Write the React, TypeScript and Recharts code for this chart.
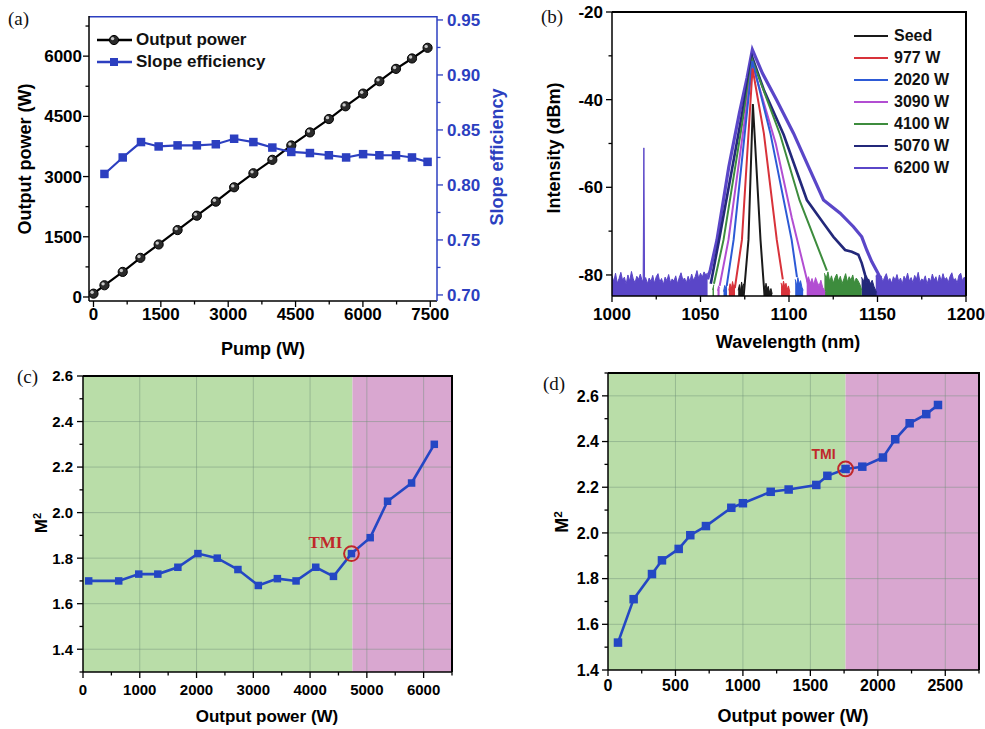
import React from 'react';
import {
  ComposedChart,
  Line,
  Area,
  XAxis,
  YAxis,
  CartesianGrid,
  ReferenceArea,
  ReferenceDot,
  Legend,
} from 'recharts';

const FONT = '"Liberation Sans", Arial, Helvetica, sans-serif';
const SERIF = '"Liberation Serif", "Times New Roman", serif';

// ---------------- Panel (a) data ----------------
const pumpPower = [0, 244, 651, 1044, 1451, 1873, 2302, 2724, 3132, 3561, 3983, 4405, 4820, 5242, 5612, 6004, 6367, 6737, 7093, 7440];
const outputPower = [83, 292, 625, 975, 1308, 1667, 2025, 2375, 2733, 3083, 3417, 3775, 4100, 4433, 4750, 5067, 5375, 5683, 5942, 6208];
const slopePump = [244, 651, 1058, 1451, 1873, 2302, 2724, 3132, 3561, 3983, 4405, 4820, 5242, 5626, 6004, 6367, 6737, 7093, 7440];
const slopeEff = [0.810, 0.825, 0.839, 0.835, 0.836, 0.836, 0.837, 0.842, 0.839, 0.834, 0.830, 0.829, 0.827, 0.825, 0.828, 0.827, 0.827, 0.825, 0.821];
const aXDomain: [number, number] = [-100, 7650];
const aYDomain: [number, number] = [-100, 7000];
const aXTicks = [0, 750, 1500, 2250, 3000, 3750, 4500, 5250, 6000, 6750, 7500];
const aXMajors = [0, 1500, 3000, 4500, 6000, 7500];
const aYTicks = [0, 750, 1500, 2250, 3000, 3750, 4500, 5250, 6000, 6750];
const aYMajors = [0, 1500, 3000, 4500, 6000];
const aY2Ticks = [0.7, 0.725, 0.75, 0.775, 0.8, 0.825, 0.85, 0.875, 0.9, 0.925, 0.95];
const aY2Majors = [0.7, 0.75, 0.8, 0.85, 0.9, 0.95];
const aLegendNames = ['Output power', 'Slope efficiency'];

// ---------------- Panel (b) data ----------------
const specNames = ['Seed', '977 W', '2020 W', '3090 W', '4100 W', '5070 W', '6200 W'];
const specColors = ['#1a1a1a', '#d8323a', '#2d5ad6', '#b24ed2', '#3d8c3d', '#23287a', '#5a46c8'];
const seedLine = [[1074.4, -84.8], [1077.1, -72], [1079.6, -41], [1083.9, -72], [1086.2, -84.8]];
const w977Line = [[1069.4, -83], [1073.4, -72], [1079.4, -32.9], [1085.8, -47.7], [1093.1, -72], [1096.5, -81]];
const w2020Line = [[1064.8, -82.5], [1068.7, -72], [1079.3, -31.2], [1089.5, -47.7], [1101.5, -72], [1104.5, -80.5]];
const w3090Line = [[1060.8, -82.5], [1065.8, -72], [1079.3, -31.8], [1092.5, -50], [1101.6, -67], [1111, -82.5]];
const w4100Line = [[1057.6, -82], [1063, -72], [1079.3, -31], [1095, -48], [1106, -63], [1121.4, -79]];
const w5070Line = [[1055.8, -82], [1060.5, -72], [1079.3, -30.4], [1086, -38], [1097, -48], [1110.1, -62.9], [1119.5, -68.2], [1125.1, -71.3], [1131.7, -74.3], [1135.5, -74.7], [1139.2, -75.4], [1141.1, -77.3], [1143, -80], [1145.8, -82.7], [1147, -84.8]];
const w6200Line = [[1054, -81], [1055.5, -78.9], [1059.3, -72], [1066, -55.3], [1072, -43], [1076.3, -35], [1079.3, -28.6], [1085, -34], [1093, -40.1], [1102.6, -47.7], [1111, -55.3], [1119.5, -62.9], [1128.9, -65.9], [1136.4, -69], [1141.1, -71.3], [1143.9, -74.3], [1146.8, -77], [1149.9, -79.3], [1152, -81]];

const floor6200: (number | null)[][] = [
  [1000, -80.2], [1001, -81.5], [1002, -79.6], [1003, -81.9], [1004, -80.8], [1005, -79.4], [1006, -81.2], [1007, -80.5],
  [1008, -82.1], [1009, -80.0], [1010, -81.4], [1011, -79.2], [1012, -80.9], [1013, -81.8], [1014, -80.3], [1015, -81.0],
  [1016, -79.8], [1017, -81.3], [1017.6, -81.0], [1018, -51], [1018.4, -81.2], [1019, -80.6], [1020, -82.0], [1021, -80.7],
  [1022, -81.5], [1023, -80.1], [1024, -81.9], [1025, -80.4], [1026, -79.7], [1027, -81.6], [1028, -80.8], [1029, -82.2],
  [1030, -80.5], [1031, -81.3], [1032, -79.9], [1033, -81.7], [1034, -80.9], [1035, -81.4], [1036, -80.2], [1037, -82.0],
  [1038, -80.6], [1039, -79.5], [1040, -81.1], [1041, -80.7], [1042, -81.8], [1043, -80.3], [1044, -81.5], [1045, -79.8],
  [1046, -81.2], [1047, -80.4], [1048, -79.0], [1049, -80.8], [1050, -79.6], [1051, -80.5], [1052, -79.3], [1053, -80.0],
  [1054, -79.5], [1055, null],
  [1149, -80.2], [1150, -79.8], [1151, -80.9], [1152, -80.2], [1153, -81.6], [1154, -80.5], [1155, -79.7], [1156, -81.3],
  [1157, -80.8], [1158, -81.9], [1159, -80.4], [1160, -81.2], [1161, -79.9], [1162, -81.5], [1163, -80.7], [1164, -82.0],
  [1165, -80.3], [1166, -81.1], [1167, -79.6], [1168, -81.4], [1169, -80.6], [1170, -81.8], [1171, -80.1], [1172, -81.0],
  [1173, -79.4], [1174, -81.6], [1175, -80.9], [1176, -81.3], [1177, -80.2], [1178, -82.1], [1179, -80.7], [1180, -81.5],
  [1181, -79.8], [1182, -81.2], [1183, -80.4], [1184, -81.9], [1185, -80.0], [1186, -81.4], [1187, -79.7], [1188, -81.1],
  [1189, -80.6], [1190, -81.7], [1191, -80.3], [1192, -79.5], [1193, -81.2], [1194, -80.8], [1195, -81.9], [1196, -80.1],
  [1197, -79.6], [1198, -81.3], [1199, -80.5], [1200, -81.0],
];
const noise5070: (number | null)[][] = [
  [1141, -80.5], [1142, -81.5], [1143, -80.2], [1144, -81.8], [1145, -80.9], [1146, -82.0], [1147, -81.2], [1148, -82.6], [1149.5, -84.0],
];
const noise4100: (number | null)[][] = [
  [1056.8, -83.4], [1057.6, -82.2], [1058.2, null],
  [1120, -79.6], [1121, -80.8], [1122, -79.3], [1123, -81.5], [1124, -80.2], [1125, -81.9], [1126, -80.6], [1127, -79.8],
  [1128, -81.4], [1129, -80.3], [1130, -82.0], [1131, -80.9], [1132, -79.7], [1133, -81.6], [1134, -80.4], [1135, -81.2],
  [1136, -80.0], [1137, -81.8], [1138, -80.7], [1139, -81.3], [1140, -82.1], [1141.1, -83.5],
];
const noise3090: (number | null)[][] = [
  [1059.6, -83.6], [1060.2, -82.5], [1060.8, -83.0], [1061.2, null],
  [1110, -81.5], [1111, -80.4], [1112, -81.9], [1113, -80.8], [1114, -82.2], [1115, -80.6], [1116, -81.7], [1117, -82.5],
  [1118, -81.2], [1119, -82.8], [1120.4, -83.8],
];
const noise2020: (number | null)[][] = [
  [1063, -83.8], [1063.7, -82.4], [1064.4, -83.1], [1065, -82.0], [1065.5, null],
  [1103.5, -81.0], [1104.3, -82.4], [1105, -80.6], [1105.8, -82.1], [1106.5, -81.3], [1107.3, -82.8], [1108, -83.5],
];
const noise977: (number | null)[][] = [
  [1066, -83.5], [1066.7, -82.0], [1067.4, -83.2], [1068.1, -81.5], [1068.8, -82.8], [1069.5, -82.2], [1070, null],
  [1095.5, -81.8], [1096.2, -83.0], [1096.9, -81.4], [1097.6, -82.7], [1098.3, -81.9], [1099, -83.3], [1099.7, -82.5], [1100.5, -84.0],
];
const noiseSeed: (number | null)[][] = [
  [1071.3, -83.5], [1072, -82.2], [1072.6, -83.8], [1073.2, -81.6], [1073.8, -83.0], [1074.4, -82.0], [1075, null],
  [1085.8, -82.4], [1086.4, -83.6], [1087, -81.9], [1087.7, -83.2], [1088.3, -82.6], [1089, -84.0], [1089.8, -83.1], [1090.5, -84.3],
];
const bXDomain: [number, number] = [1000, 1200];
const bYDomain: [number, number] = [-84.8, -20];
const bXTicks = [1000, 1025, 1050, 1075, 1100, 1125, 1150, 1175, 1200];
const bXMajors = [1000, 1050, 1100, 1150, 1200];
const bYTicks = [-80, -70, -60, -50, -40, -30, -20];
const bYMajors = [-80, -60, -40, -20];

// ---------------- Panel (c) data ----------------
const cPower = [100, 629, 982, 1318, 1671, 2024, 2365, 2729, 3088, 3424, 3753, 4100, 4412, 4729, 5059, 5365, 5788, 6188];
const cM2 = [1.70, 1.70, 1.73, 1.73, 1.76, 1.82, 1.80, 1.75, 1.68, 1.71, 1.70, 1.76, 1.72, 1.82, 1.89, 2.05, 2.13, 2.30];
const cTmi = { power: 4729, m2: 1.82, threshold: 4747 };
const cXTicks = [0, 500, 1000, 1500, 2000, 2500, 3000, 3500, 4000, 4500, 5000, 5500, 6000, 6500];
const cXMajors = [0, 1000, 2000, 3000, 4000, 5000, 6000];
const cYTicks = [1.3, 1.4, 1.5, 1.6, 1.7, 1.8, 1.9, 2.0, 2.1, 2.2, 2.3, 2.4, 2.5, 2.6];
const cYMajors = [1.4, 1.6, 1.8, 2.0, 2.2, 2.4, 2.6];

// ---------------- Panel (d) data ----------------
const dPower = [74, 190, 326, 400, 524, 610, 726, 914, 1000, 1206, 1339, 1544, 1626, 1761, 1885, 2038, 2129, 2236, 2359, 2446];
const dM2 = [1.52, 1.71, 1.82, 1.88, 1.93, 1.99, 2.03, 2.11, 2.13, 2.18, 2.19, 2.21, 2.25, 2.28, 2.29, 2.33, 2.41, 2.48, 2.52, 2.56];
const dTmi = { power: 1761, m2: 2.28, threshold: 1761 };
const dXTicks = [0, 250, 500, 750, 1000, 1250, 1500, 1750, 2000, 2250, 2500, 2750];
const dXMajors = [0, 500, 1000, 1500, 2000, 2500];
const dYTicks = [1.4, 1.5, 1.6, 1.7, 1.8, 1.9, 2.0, 2.1, 2.2, 2.3, 2.4, 2.5, 2.6, 2.7];
const dYMajors = [1.4, 1.6, 1.8, 2.0, 2.2, 2.4, 2.6];

// ---------------- helpers ----------------
const toPts = (arr: (number | null)[][]) => arr.map(([w, v]) => ({ w, v }));
const near = (v: number, arr: number[]) => arr.some((m) => Math.abs(m - v) < 1e-7);

type Side = 'left' | 'right' | 'top' | 'bottom';
interface TickCfg { side: Side; majors: number[]; dec?: number; color?: string; fs?: number; dist?: number; out?: boolean; label?: boolean; }
const makeTick = (c: TickCfg) => (props: any) => {
  const { x, y, payload } = props;
  const v = Number(payload.value);
  const major = near(v, c.majors);
  const L = major ? 6 : 3.5;
  const s = c.out ? 1 : -1;
  const col = c.color ?? '#000';
  const fs = c.fs ?? 16;
  const d = c.dist ?? 10;
  const txt = major && c.label !== false ? v.toFixed(c.dec ?? 0) : null;
  const tp = { fill: col, fontFamily: FONT, fontWeight: 700, fontSize: fs } as any;
  if (c.side === 'bottom') {
    return (
      <g>
        <line x1={x} x2={x} y1={y} y2={y + s * L} stroke={col} strokeWidth={1.3} />
        {txt && <text x={x} y={y + d + fs * 0.36} textAnchor="middle" {...tp}>{txt}</text>}
      </g>
    );
  }
  if (c.side === 'left') {
    return (
      <g>
        <line x1={x} x2={x - s * L} y1={y} y2={y} stroke={col} strokeWidth={1.3} />
        {txt && <text x={x - d} y={y + fs * 0.36} textAnchor="end" {...tp}>{txt}</text>}
      </g>
    );
  }
  return (
    <g>
      <line x1={x} x2={x + s * L} y1={y} y2={y} stroke={col} strokeWidth={1.3} />
      {txt && <text x={x + d} y={y + fs * 0.36} textAnchor="start" {...tp}>{txt}</text>}
    </g>
  );
};

const titleText = (txt: React.ReactNode, x: number, y: number, fs: number, rotate = false, color = '#000') => () => (
  <text
    x={x}
    y={y}
    textAnchor="middle"
    fill={color}
    fontFamily={FONT}
    fontWeight={700}
    fontSize={fs}
    transform={rotate ? `rotate(-90 ${x} ${y})` : undefined}
  >
    {txt}
  </text>
);

const sphereDot = (p: any) => {
  const { cx, cy, index } = p;
  if (cx == null || cy == null) return <g key={`s${index}`} />;
  return (
    <g key={`s${index}`}>
      <circle cx={cx} cy={cy} r={4.6} fill="#2a2a2a" stroke="#000" strokeWidth={1} />
      <circle cx={cx - 1.4} cy={cy - 1.4} r={1.7} fill="#c8c8c8" />
    </g>
  );
};
const squareDot = (size: number, color: string) => (p: any) => {
  const { cx, cy, index } = p;
  if (cx == null || cy == null) return <g key={`q${index}`} />;
  return <rect key={`q${index}`} x={cx - size / 2} y={cy - size / 2} width={size} height={size} fill={color} />;
};

const BLUE_A = '#2c3fc0';
const LINE_BLUE = '#2447c4';
const GREEN_BG = '#b9dda8';
const PINK_BG = '#d9a7d0';
const TMI_RED = '#c0282a';

// ---------------- Panel (a) ----------------
const PanelA = () => {
  const outData = pumpPower.map((p, i) => ({ pump: p, out: outputPower[i] }));
  const effData = slopePump.map((p, i) => ({ pump: p, eff: slopeEff[i] }));
  const topEdgeA = [{ pump: aXDomain[0], fy: aYDomain[1] }, { pump: aXDomain[1], fy: aYDomain[1] }];
  const legendA = () => (
    <div style={{ fontFamily: FONT, fontWeight: 700, fontSize: 17, lineHeight: '22px', color: '#111' }}>
      {aLegendNames.map((n, i) => (
        <div key={n} style={{ display: 'flex', alignItems: 'center', height: 22 }}>
          <svg width={38} height={22}>
            <line x1={1} x2={36} y1={11} y2={11} stroke={i === 0 ? '#000' : BLUE_A} strokeWidth={2.5} />
            {i === 0 ? (
              <g>
                <circle cx={18} cy={11} r={4.6} fill="#2a2a2a" stroke="#000" />
                <circle cx={16.6} cy={9.6} r={1.7} fill="#c8c8c8" />
              </g>
            ) : (
              <rect x={14} y={7} width={8} height={8} fill={BLUE_A} />
            )}
          </svg>
          <span style={{ marginLeft: 2 }}>{n}</span>
        </div>
      ))}
    </div>
  );
  return (
    <ComposedChart width={520} height={370} margin={{ top: 16, right: 23, bottom: 39, left: 19 }}>
      <XAxis
        xAxisId="b" type="number" dataKey="pump" domain={aXDomain} allowDataOverflow ticks={aXTicks} interval={0}
        tickLine={false} tickSize={0} tickMargin={0} height={30} axisLine={{ stroke: '#000', strokeWidth: 1.5 }}
        tick={makeTick({ side: 'bottom', majors: aXMajors, fs: 17, dist: 13, out: true })}
        label={{ content: titleText('Pump (W)', 263, 355, 18) }}
      />
      <YAxis
        yAxisId="p" type="number" domain={aYDomain} allowDataOverflow ticks={aYTicks} interval={0}
        tickLine={false} tickSize={0} tickMargin={0} width={70} axisLine={{ stroke: '#000', strokeWidth: 1.5 }}
        tick={makeTick({ side: 'left', majors: aYMajors, fs: 17, dist: 7, out: true })}
        label={{ content: titleText('Output power (W)', 31, 159, 18, true) }}
      />
      <YAxis
        yAxisId="e" orientation="right" type="number" domain={[0.6945, 0.9536]} allowDataOverflow ticks={aY2Ticks} interval={0}
        tickLine={false} tickSize={0} tickMargin={0} width={60} axisLine={{ stroke: BLUE_A, strokeWidth: 1.5 }}
        tick={makeTick({ side: 'right', majors: aY2Majors, fs: 17, dist: 10, out: true, dec: 2, color: BLUE_A })}
        label={{ content: titleText('Slope efficiency', 503, 157, 18, true, BLUE_A) }}
      />
      <Line xAxisId="b" yAxisId="p" data={topEdgeA} dataKey="fy" type="linear" stroke={BLUE_A} strokeWidth={3}
        dot={false} activeDot={false} isAnimationActive={false} legendType="none" />
      <Line xAxisId="b" yAxisId="p" data={outData} dataKey="out" type="linear" stroke="#000" strokeWidth={2.2}
        dot={sphereDot} activeDot={false} isAnimationActive={false} />
      <Line xAxisId="b" yAxisId="e" data={effData} dataKey="eff" type="linear" stroke={BLUE_A} strokeWidth={2.2}
        dot={squareDot(8.5, BLUE_A)} activeDot={false} isAnimationActive={false} />
      <Legend content={legendA} layout="vertical" align="center" verticalAlign="middle"
        wrapperStyle={{ left: 96, top: 29, width: 200, height: 44 }} />
    </ComposedChart>
  );
};

// ---------------- Panel (b) ----------------
const PanelB = () => {
  const lines = [seedLine, w977Line, w2020Line, w3090Line, w4100Line, w5070Line, w6200Line];
  const noises = [noiseSeed, noise977, noise2020, noise3090, noise4100, noise5070, floor6200];
  const order = [6, 5, 4, 3, 2, 1, 0];
  const widths = [2, 2, 2, 2, 2, 2.6, 3.2];
  const legendB = () => (
    <div style={{ fontFamily: FONT, fontWeight: 700, fontSize: 16, color: '#111' }}>
      {specNames.map((n, i) => (
        <div key={n} style={{ display: 'flex', alignItems: 'center', height: 22 }}>
          <svg width={36} height={22}>
            <line x1={0} x2={34} y1={11} y2={11} stroke={specColors[i]} strokeWidth={2} />
          </svg>
          <span style={{ marginLeft: 4 }}>{n}</span>
        </div>
      ))}
    </div>
  );
  return (
    <ComposedChart width={465} height={370} margin={{ top: 12, right: 19, bottom: 44, left: 32 }}>
      <XAxis
        xAxisId="x" type="number" dataKey="w" domain={bXDomain} allowDataOverflow ticks={bXTicks} interval={0}
        tickLine={false} tickSize={0} tickMargin={0} height={30} axisLine={{ stroke: '#000', strokeWidth: 1.5 }}
        tick={makeTick({ side: 'bottom', majors: bXMajors, fs: 17, dist: 18, out: true })}
        label={{ content: titleText('Wavelength (nm)', 268, 348, 18) }}
      />
      <YAxis
        yAxisId="y" type="number" domain={bYDomain} allowDataOverflow ticks={bYTicks} interval={0}
        tickLine={false} tickSize={0} tickMargin={0} width={60} axisLine={{ stroke: '#000', strokeWidth: 1.5 }}
        tick={makeTick({ side: 'left', majors: bYMajors, fs: 17, dist: 9, out: true })}
        label={{ content: titleText('Intensity (dBm)', 40, 148, 18, true) }}
      />
      {order.map((i) => (
        <Area key={`n${i}`} xAxisId="x" yAxisId="y" data={toPts(noises[i])} dataKey="v" type="linear" stroke={specColors[i]} strokeWidth={1}
          fill={specColors[i]} fillOpacity={1} baseValue={-84.8} connectNulls={false} dot={false} activeDot={false}
          isAnimationActive={false} />
      ))}
      {order.map((i) => (
        <Line key={`l${i}`} xAxisId="x" yAxisId="y" data={toPts(lines[i])} dataKey="v" type="linear" stroke={specColors[i]} strokeWidth={widths[i]}
          dot={false} activeDot={false} isAnimationActive={false} />
      ))}
      <Legend content={legendB} layout="vertical" align="center" verticalAlign="middle"
        wrapperStyle={{ left: 334, top: 25, width: 120, height: 154 }} />
    </ComposedChart>
  );
};

// ---------------- Panels (c) & (d) ----------------
interface M2Cfg {
  width: number; margin: any; power: number[]; m2: number[]; tmi: { power: number; m2: number; threshold: number };
  xDomain: [number, number]; yDomain: [number, number]; xTicks: number[]; xMajors: number[]; yTicks: number[]; yMajors: number[];
  tickFs: number; xDist: number; yDist: number; titleFs: number; xTitle: [number, number]; yTitle: [number, number];
  sq: number; tmiSerif: boolean; tmiFs: number; tmiDx: number; tmiDy: number; gridX: number[]; gridY: number[];
}
const M2Panel = (c: M2Cfg) => {
  const data = c.power.map((p, i) => ({ p, m: c.m2[i] }));
  const tmiShape = (props: any) => {
    const { cx, cy } = props;
    return (
      <g>
        <circle cx={cx} cy={cy} r={7.4} fill="none" stroke={TMI_RED} strokeWidth={2} />
        <text x={cx + c.tmiDx} y={cy + c.tmiDy} textAnchor="end" fill={TMI_RED}
          fontFamily={c.tmiSerif ? SERIF : FONT} fontWeight={700} fontSize={c.tmiFs}>TMI</text>
      </g>
    );
  };
  const m2Title = (
    <tspan>M<tspan baselineShift="super" fontSize={c.titleFs * 0.65}>2</tspan></tspan>
  );
  return (
    <ComposedChart width={c.width} height={369} margin={c.margin}>
      <XAxis
        xAxisId="x" type="number" dataKey="p" domain={c.xDomain} allowDataOverflow ticks={c.xTicks} interval={0}
        tickLine={false} tickSize={0} tickMargin={0} height={25} axisLine={{ stroke: '#000', strokeWidth: 1.5 }}
        tick={makeTick({ side: 'bottom', majors: c.xMajors, fs: c.tickFs, dist: c.xDist, out: true })}
        label={{ content: titleText('Output power (W)', c.xTitle[0], c.xTitle[1], c.titleFs) }}
      />
      <YAxis
        yAxisId="y" type="number" domain={c.yDomain} allowDataOverflow ticks={c.yTicks} interval={0}
        tickLine={false} tickSize={0} tickMargin={0} width={50} axisLine={{ stroke: '#000', strokeWidth: 1.5 }}
        tick={makeTick({ side: 'left', majors: c.yMajors, fs: c.tickFs, dist: c.yDist, out: true, dec: 1 })}
        label={{ content: titleText(m2Title, c.yTitle[0], c.yTitle[1], c.titleFs, true) }}
      />
      <ReferenceArea xAxisId="x" yAxisId="y" x1={c.xDomain[0]} x2={c.tmi.threshold} fill={GREEN_BG} fillOpacity={1} stroke="none" ifOverflow="hidden" />
      <ReferenceArea xAxisId="x" yAxisId="y" x1={c.tmi.threshold} x2={c.xDomain[1]} fill={PINK_BG} fillOpacity={1} stroke="none" ifOverflow="hidden" />
      <CartesianGrid
        xAxisId="x" yAxisId="y"
        stroke="#6f8f78" strokeOpacity={0.45} strokeWidth={1}
        verticalValues={c.gridX} horizontalValues={c.gridY}
        {...({ zIndex: 150 } as any)}
      />
      <Line xAxisId="x" yAxisId="y" data={data} dataKey="m" type="linear" stroke={LINE_BLUE} strokeWidth={2.6}
        dot={squareDot(c.sq, LINE_BLUE)} activeDot={false} isAnimationActive={false} />
      <ReferenceDot xAxisId="x" yAxisId="y" x={c.tmi.power} y={c.tmi.m2} r={7.4} shape={tmiShape} ifOverflow="visible" />
    </ComposedChart>
  );
};

const PanelC = () => M2Panel({
  width: 480, margin: { top: 16, right: 28, bottom: 32, left: 33 }, power: cPower, m2: cM2, tmi: cTmi,
  xDomain: [0, 6500], yDomain: [1.3, 2.6], xTicks: cXTicks, xMajors: cXMajors, yTicks: cYTicks, yMajors: cYMajors,
  tickFs: 15, xDist: 18, yDist: 10, titleFs: 17, xTitle: [267, 362], yTitle: [47, 163], sq: 7.5, tmiSerif: true, tmiFs: 17,
  tmiDx: -9, tmiDy: -6, gridX: [1000, 2000, 3000, 4000, 5000, 6000], gridY: [1.4, 1.6, 1.8, 2.0, 2.2, 2.4],
});
const PanelD = () => M2Panel({
  width: 505, margin: { top: 13, right: 6, bottom: 34, left: 78 }, power: dPower, m2: dM2, tmi: dTmi,
  xDomain: [0, 2750], yDomain: [1.4, 2.7], xTicks: dXTicks, xMajors: dXMajors, yTicks: dYTicks, yMajors: dYMajors,
  tickFs: 16, xDist: 15.5, yDist: 9, titleFs: 18, xTitle: [313, 362], yTitle: [88, 162], sq: 8.5, tmiSerif: false, tmiFs: 14,
  tmiDx: -10, tmiDy: -10, gridX: [500, 1000, 1500, 2000, 2500], gridY: [1.6, 1.8, 2.0, 2.2, 2.4, 2.6],
});

const panelLabel = (t: string, x: number, y: number) => (
  <div style={{ position: 'absolute', left: x, top: y, fontFamily: SERIF, fontSize: 19, lineHeight: '19px', color: '#111' }}>{t}</div>
);

// closes the plot box (top and right sides) of panels whose frame is not drawn by an axis
const frameBox = (left: number, top: number, width: number, height: number) => (
  <div style={{
    position: 'absolute', left, top, width, height, boxSizing: 'border-box',
    borderTop: '2px solid #000', borderRight: '2px solid #000', pointerEvents: 'none',
  }} />
);

export default function App() {
  return (
    <div style={{ position: 'absolute', left: 0, top: 0, width: 985, height: 729, background: '#fff', overflow: 'hidden' }}>
      <div style={{ position: 'absolute', left: 0, top: 0 }}><PanelA /></div>
      <div style={{ position: 'absolute', left: 520, top: 0 }}><PanelB /></div>
      <div style={{ position: 'absolute', left: 0, top: 360 }}><PanelC /></div>
      <div style={{ position: 'absolute', left: 480, top: 360 }}><PanelD /></div>
      {frameBox(612, 11, 355, 285)}
      {frameBox(83, 375, 370, 297)}
      {frameBox(608, 372, 372, 298)}
      {panelLabel('(a)', 8, 9)}
      {panelLabel('(b)', 541, 7)}
      {panelLabel('(c)', 17, 367)}
      {panelLabel('(d)', 543, 374)}
    </div>
  );
}
